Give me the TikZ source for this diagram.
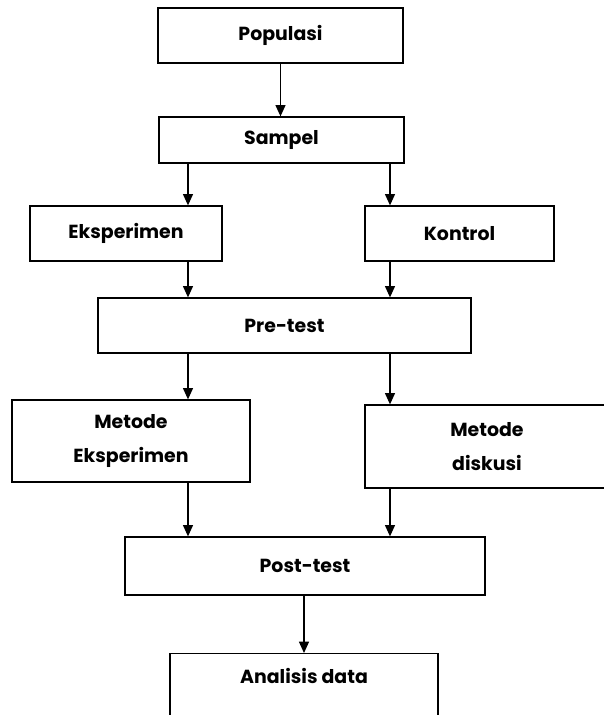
\documentclass[tikz,border=0pt]{standalone}
\usepackage{fontspec}
\setmainfont{Poppins}
\usetikzlibrary{arrows.meta}
\tikzset{every picture/.style={line width=0.95pt}}

\begin{document}
\begin{tikzpicture}[x=0.75pt,y=-0.75pt,
		kotak/.style={shape=rectangle, draw, align=center, inner sep=0pt,
			font=\fontsize{14.2}{25}\selectfont\bfseries},
		panah/.style={-{Triangle[length=8.5pt,width=7.5pt]}}
	]
	\useasboundingbox (0,0) rectangle (604,715);
	\clip (0,0) rectangle (604,715);
	\coordinate (kiri) at (188,0);
	\coordinate (kanan) at (390,0);
	\node[kotak, minimum width=183.75pt, minimum height=41.25pt] (pop) at (280.5,35.5) {Populasi};
	\node[kotak, minimum width=183.75pt, minimum height=34.5pt] (sam) at (281.5,140) {Sampel};
	\node[kotak, minimum width=144pt, minimum height=41.25pt] (eks) at (126,233.5) {Eksperimen};
	\node[kotak, minimum width=141.75pt, minimum height=41.25pt] (kon) at (459.5,233.5) {Kontrol};
	\node[kotak, minimum width=279.75pt, minimum height=41.25pt] (pre) at (284.5,325.5) {Pre-test};
	\node[kotak, minimum width=178.5pt, minimum height=61.5pt] (me) at (131,441) {Metode\\Eksperimen};
	\node[kotak, minimum width=183pt, minimum height=62.25pt] (md) at (487,446.5) {Metode\\diskusi};
	\node[kotak, minimum width=270pt, minimum height=43.5pt] (post) at (305,566) {Post-test};
	\node[kotak, minimum width=201pt, anchor=north, text height=22.5pt, text depth=45pt] (ana) at (304,653) {Analisis data};
	\draw[panah] (pop.south) -- (pop.south |- sam.north);
	\foreach \dari/\ke/\jalur in {sam/eks/kiri, sam/kon/kanan, eks/pre/kiri, kon/pre/kanan,
			pre/me/kiri, pre/md/kanan, me/post/kiri, md/post/kanan}
		\draw[panah] (\dari.south -| \jalur) -- (\ke.north -| \jalur);
	\draw[panah] (post.south -| ana.north) -- (ana.north);
\end{tikzpicture}
\end{document}
